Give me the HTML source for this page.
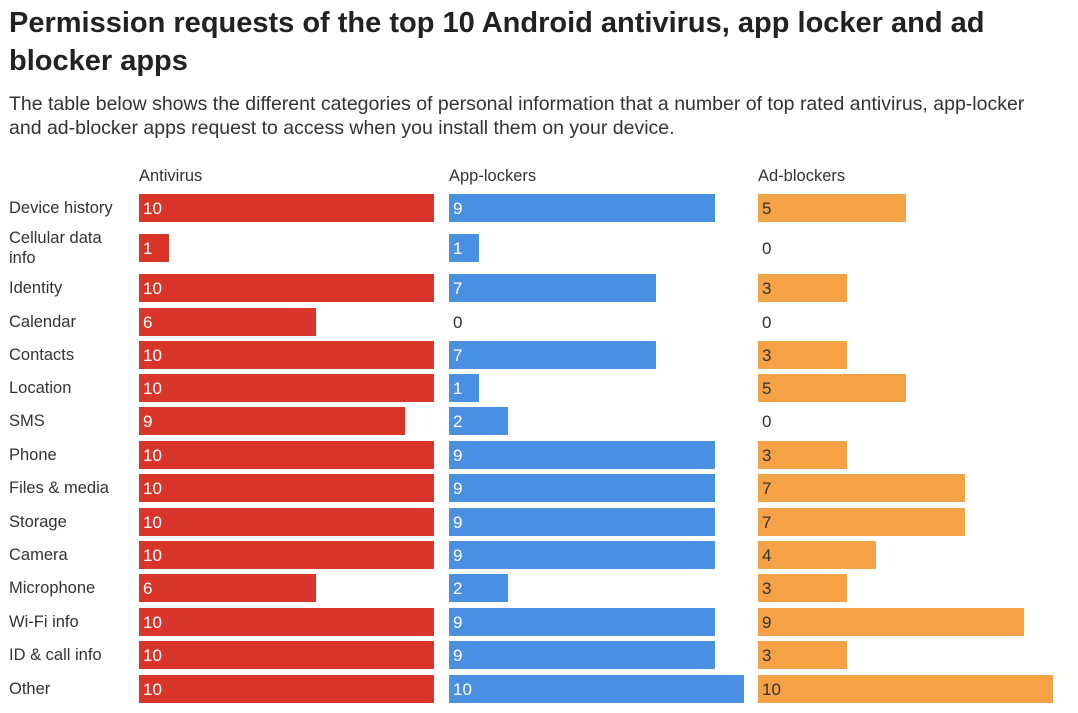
<!DOCTYPE html>
<html><head><meta charset="utf-8"><style>
body{margin:0;width:1078px;height:713px;background:#fff;font-family:"Liberation Sans",sans-serif;color:#333;position:relative;overflow:hidden}
#title{position:absolute;left:9px;top:4px;font-size:29px;line-height:38px;color:#222;margin:0;font-weight:bold;width:1070px;white-space:nowrap}
#sub{position:absolute;left:9px;top:92px;font-size:19.5px;line-height:24px;color:#333;width:1070px;white-space:nowrap}
.t{position:absolute;font-size:16.5px;color:#333;white-space:nowrap}
.bar{position:absolute;height:28px}
.v{position:absolute;font-size:17px;line-height:28px}
</style></head><body>
<h1 id="title">Permission requests of the top 10 Android antivirus, app locker and ad<br>blocker apps</h1>
<div id="sub">The table below shows the different categories of personal information that a number of top rated antivirus, app-locker<br>and ad-blocker apps request to access when you install them on your device.</div>
<div id="chart"></div>
<script>
const categories=["Device history","Cellular data info","Identity","Calendar","Contacts","Location","SMS","Phone","Files & media","Storage","Camera","Microphone","Wi-Fi info","ID & call info","Other"];
const seriesNames=["Antivirus","App-lockers","Ad-blockers"];
const antivirus=[10,1,10,6,10,10,9,10,10,10,10,6,10,10,10];
const appLockers=[9,1,7,0,7,1,2,9,9,9,9,2,9,9,10];
const adBlockers=[5,0,3,0,3,5,0,3,7,7,4,3,9,3,10];
const series=[antivirus,appLockers,adBlockers];
const colors=["#d9352b","#4a90e2","#f5a145"];
const textColors=["#fff","#fff","#333"];
const colX=[139,449,758];
const maxV=10, fullW=295;
const rowTops=[194,234,274,308,341,374,407,441,474,508,541,574,608,641,675];
const c=document.getElementById('chart');
function x(v){return v/maxV*fullW;}
seriesNames.forEach((n,i)=>{
 const h=document.createElement('div');h.className='t';h.style.left=colX[i]+'px';h.style.top='167px';h.textContent=n;
 
 
 c.appendChild(h);
});
categories.forEach((cat,r)=>{
 const l=document.createElement('div');l.className='t';l.style.left='9px';
 if(cat==="Cellular data info"){l.innerHTML="Cellular data<br>info";l.style.top=(rowTops[r]-6)+'px';l.style.lineHeight='20px';}
 else{l.textContent=cat;l.style.top=(rowTops[r]+5)+'px';}
 
 
 c.appendChild(l);
 series.forEach((s,i)=>{
  const v=s[r];
  if(v>0){const b=document.createElement('div');b.className='bar';b.style.left=colX[i]+'px';b.style.top=rowTops[r]+'px';b.style.width=x(v)+'px';b.style.background=colors[i];
  
  
  c.appendChild(b);}
  const t=document.createElement('div');t.className='v';t.style.left=(colX[i]+4)+'px';t.style.top=(rowTops[r]+1)+'px';t.textContent=v;t.style.color=v>0?textColors[i]:'#333';
  
  
  c.appendChild(t);
 });
});
</script>
</body></html>
